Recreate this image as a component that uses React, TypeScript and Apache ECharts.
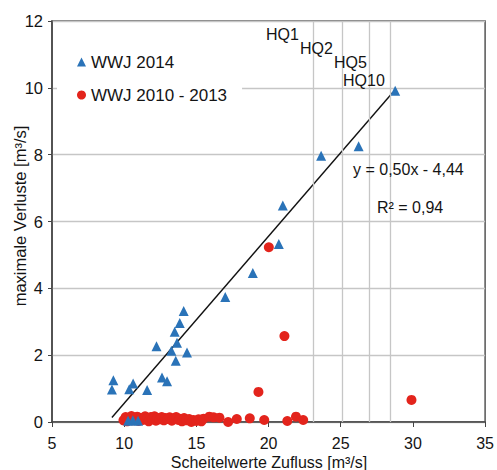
import React, { useEffect, useRef } from "react";
import * as echarts from "echarts";

const xTicks = { min: 5, max: 35, interval: 5 };
const yTicks = { min: 0, max: 12, interval: 2 };

const seriesNames = ["WWJ 2014", "WWJ 2010 - 2013"];

const wwj2014: [number, number][] = [
  [28.77, 9.91], [26.24, 8.25], [23.64, 7.97], [20.99, 6.48], [20.71, 5.33],
  [18.91, 4.46], [17.0, 3.74], [14.12, 3.32], [13.85, 2.96], [13.5, 2.7],
  [13.66, 2.37], [12.24, 2.27], [13.27, 2.13], [14.35, 2.08], [13.57, 1.83],
  [12.62, 1.33], [12.97, 1.22], [9.25, 1.25], [9.15, 0.97], [10.62, 1.15],
  [10.35, 0.98], [11.59, 0.96], [10.27, 0.04], [10.6, 0.05], [10.96, 0.04],
];

const wwj2010_2013: [number, number][] = [
  [9.95, 0.05], [10.1, 0.15], [10.2, 0.02], [10.35, 0.12], [10.5, 0.18],
  [10.6, 0.05], [10.75, 0.1], [10.9, 0.16], [11.0, 0.03], [11.15, 0.12],
  [11.3, 0.06], [11.45, 0.17], [11.6, 0.1], [11.7, 0.02], [11.85, 0.15],
  [11.95, 0.08], [12.1, 0.17], [12.2, 0.04], [12.3, 0.12], [12.45, 0.08],
  [12.6, 0.15], [12.75, 0.05], [12.85, 0.12], [13.0, 0.09], [13.15, 0.14],
  [13.3, 0.04], [13.45, 0.11], [13.6, 0.15], [13.75, 0.06], [13.85, 0.1],
  [14.0, 0.02], [14.15, 0.12], [14.3, 0.05], [14.5, 0.09], [14.65, 0.0],
  [14.8, 0.06], [15.0, 0.03], [15.15, 0.08], [15.35, 0.02], [15.5, 0.1],
  [15.9, 0.16], [16.2, 0.14], [16.6, 0.13], [17.2, 0.0], [17.8, 0.09],
  [18.7, 0.11], [19.7, 0.06], [21.3, 0.03], [21.9, 0.16], [22.4, 0.06],
  [20.02, 5.23], [21.1, 2.57], [19.3, 0.9], [29.9, 0.66],
];

const trend = { slope: 0.5, intercept: -4.44, xStart: 9.15, xEnd: 28.6 };
const hqNames = ["HQ1", "HQ2", "HQ5", "HQ10"];
const hqValues = [23.1, 25.1, 27.0, 28.4];
const equationText = "y = 0,50x - 4,44";
const r2Text = "R² = 0,94";
const xTitle = "Scheitelwerte Zufluss [m³/s]";
const yTitle = "maximale Verluste [m³/s]";

const FONT = "'Liberation Sans', Arial, sans-serif";
const TXT = "#141414";
const BLUE = "#2a73b8";
const RED = "#e3241c";

export default function App() {
  const ref = useRef<HTMLDivElement>(null);
  useEffect(() => {
    if (!ref.current) return;
    const chart = echarts.init(ref.current, undefined, { renderer: "svg" });
    const trendData = [trend.xStart, trend.xEnd].map((x) => [x, trend.slope * x + trend.intercept]);
    const hqLabelPos = [
      { x: 266, y: 34 },
      { x: 300, y: 48 },
      { x: 334, y: 62 },
      { x: 343, y: 80 },
    ];
    chart.setOption({
      animation: false,
      backgroundColor: "#fff",
      grid: {
        left: 52, right: 11, top: 21, bottom: 48,
        show: true, borderColor: "#555", borderWidth: 1.5, backgroundColor: "transparent",
      },
      xAxis: {
        type: "value", min: xTicks.min, max: xTicks.max, interval: xTicks.interval,
        axisLine: { show: true, onZero: false, lineStyle: { color: "#444", width: 1.5 } },
        axisTick: { show: true, inside: false, length: 5, lineStyle: { color: "#444" } },
        axisLabel: { color: TXT, fontSize: 16, fontFamily: FONT, margin: 13 },
        splitLine: { show: false },
      },
      yAxis: {
        type: "value", min: yTicks.min, max: yTicks.max, interval: yTicks.interval,
        axisLine: { show: true, lineStyle: { color: "#444", width: 1.5 } },
        axisTick: { show: true, inside: false, length: 4, lineStyle: { color: "#444" } },
        axisLabel: { color: TXT, fontSize: 16.5, fontFamily: FONT, margin: 9 },
        splitLine: { show: true, lineStyle: { color: "#c6c6c6", width: 1.3 } },
      },
      legend: {
        orient: "vertical",
        left: 57, top: 40,
        padding: [12, 15, 12, 20],
        backgroundColor: "#fff",
        itemWidth: 9, itemHeight: 9, itemGap: 13,
        textStyle: { color: TXT, fontSize: 17, fontFamily: FONT, lineHeight: 20 },
        data: [
          { name: seriesNames[0], icon: "triangle" },
          { name: seriesNames[1], icon: "circle" },
        ],
        z: 10,
      },
      series: [
        {
          type: "line",
          data: trendData,
          showSymbol: false,
          symbol: "none",
          lineStyle: { color: "#111", width: 1.4 },
          silent: true,
          z: 1,
          markLine: {
            silent: true,
            symbol: "none",
            label: { show: false },
            lineStyle: { color: "#c6c6c6", width: 1.3, type: "solid" },
            data: hqValues.map((v) => ({ xAxis: v })),
          },
        },
        {
          name: seriesNames[1],
          type: "scatter",
          data: wwj2010_2013,
          symbol: "circle",
          symbolSize: 10,
          itemStyle: { color: RED, opacity: 1 },
          z: 3,
        },
        {
          name: seriesNames[0],
          type: "scatter",
          data: wwj2014,
          symbol: "triangle",
          symbolSize: 10,
          itemStyle: { color: BLUE, opacity: 1 },
          z: 4,
        },
      ],
      graphic: [
        ...hqNames.map((t, i) => ({
          type: "text", x: hqLabelPos[i].x, y: hqLabelPos[i].y, z: 20,
          style: { text: t, fill: TXT, fontSize: 16, fontFamily: FONT, align: "left", verticalAlign: "middle" },
        })),
        {
          type: "text", x: 353, y: 169, z: 20,
          style: { text: equationText, fill: TXT, fontSize: 16, fontFamily: FONT, align: "left", verticalAlign: "middle" },
        },
        {
          type: "text", x: 377, y: 207, z: 20,
          style: { text: r2Text, fill: TXT, fontSize: 16, fontFamily: FONT, align: "left", verticalAlign: "middle" },
        },
        {
          type: "text", x: 269, y: 462, z: 20,
          style: { text: xTitle, fill: TXT, fontSize: 16, fontFamily: FONT, align: "center", verticalAlign: "middle" },
        },
        {
          type: "text", x: 20, y: 216, rotation: Math.PI / 2, z: 20,
          style: { text: yTitle, fill: TXT, fontSize: 16.5, fontFamily: FONT, align: "center", verticalAlign: "middle" },
        },
      ],
    });
    return () => chart.dispose();
  }, []);
  return <div ref={ref} style={{ width: 497, height: 470, position: "absolute", left: 0, top: 0 }} />;
}
